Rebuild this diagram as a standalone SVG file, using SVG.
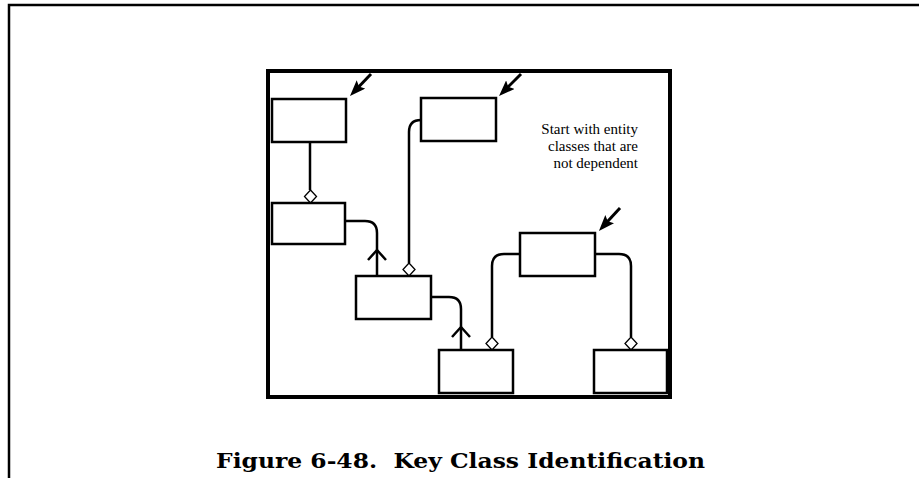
<svg xmlns="http://www.w3.org/2000/svg" width="919" height="478" viewBox="0 0 919 478">
<style>
.frame{fill:none;stroke:#000;stroke-width:2.5}
.inner{fill:none;stroke:#000;stroke-width:4}
.box{fill:#fff;stroke:#000;stroke-width:2.5}
.conn{fill:none;stroke:#000;stroke-width:2.5}
.dia{fill:#fff;stroke:#000;stroke-width:1.3}
.chev{fill:none;stroke:#000;stroke-width:2.5}
.ptr{stroke:#000;stroke-width:3;fill:none}
.note{font-family:"Liberation Serif","Times New Roman",serif;font-size:15px;fill:#000}
.cap{font-family:"DejaVu Serif","Liberation Serif",serif;font-size:21px;font-weight:bold;fill:#000}
</style>
<defs>
<marker id="head" viewBox="0 0 16 12" refX="7" refY="6" markerWidth="16" markerHeight="12" orient="auto" markerUnits="userSpaceOnUse">
<path d="M0,0 L16,6 L0,12 L3,6 Z" fill="#000"/>
</marker>
</defs>
<g id="page-frame">
<path class="frame" d="M9,478 L9,5 L919,5"/>
</g>
<g id="panel">
<rect class="inner" x="268" y="71" width="402" height="326"/>
</g>
<g id="connectors">
<path class="conn" d="M310,142 L310,190"/>
<path class="dia" d="M310.5,190 L316.5,196.5 L310.5,203 L304.5,196.5 Z"/>
<path class="conn" d="M345,221 L365,221 Q377,221 377,233 L377,276"/>
<path class="chev" d="M368,260 L377,250 L386,260"/>
<path class="conn" d="M421,120 Q409,120 409,132 L409,263"/>
<path class="dia" d="M409,263 L415,269.5 L409,276 L403,269.5 Z"/>
<path class="conn" d="M431,297 L449,297 Q461,297 461,309 L461,350"/>
<path class="chev" d="M452,337 L461,327 L470,337"/>
<path class="conn" d="M520,254 L504,254 Q492,254 492,266 L492,337"/>
<path class="dia" d="M492,337 L498,343.5 L492,350 L486,343.5 Z"/>
<path class="conn" d="M595,254 L619,254 Q631,254 631,266 L631,337"/>
<path class="dia" d="M631,337 L637,343.5 L631,350 L625,343.5 Z"/>
</g>
<g id="node-a">
<rect class="box" x="272" y="99" width="74" height="43"/>
<path class="ptr" d="M371,74 L356.2,89.5" marker-end="url(#head)"/>
</g>
<g id="node-b">
<rect class="box" x="421" y="98" width="75" height="43"/>
<path class="ptr" d="M521,74 L505.4,89.6" marker-end="url(#head)"/>
</g>
<g id="node-f">
<rect class="box" x="520" y="233" width="75" height="43"/>
<path class="ptr" d="M620,208 L605,224.3" marker-end="url(#head)"/>
</g>
<g id="node-c">
<rect class="box" x="272" y="203" width="73" height="41"/>
</g>
<g id="node-d">
<rect class="box" x="356" y="276" width="75" height="43"/>
</g>
<g id="node-e">
<rect class="box" x="439" y="350" width="74" height="43"/>
</g>
<g id="node-g">
<rect class="box" x="594" y="350" width="73" height="43"/>
</g>
<g id="note">
<text class="note" text-anchor="end" x="638" y="134">Start with entity</text>
<text class="note" text-anchor="end" x="638" y="151">classes that are</text>
<text class="note" text-anchor="end" x="638" y="168">not dependent</text>
</g>
<g id="caption">
<text class="cap" x="216" y="468" xml:space="preserve" textLength="489" lengthAdjust="spacingAndGlyphs">Figure 6-48.  Key Class Identification</text>
</g>
</svg>
